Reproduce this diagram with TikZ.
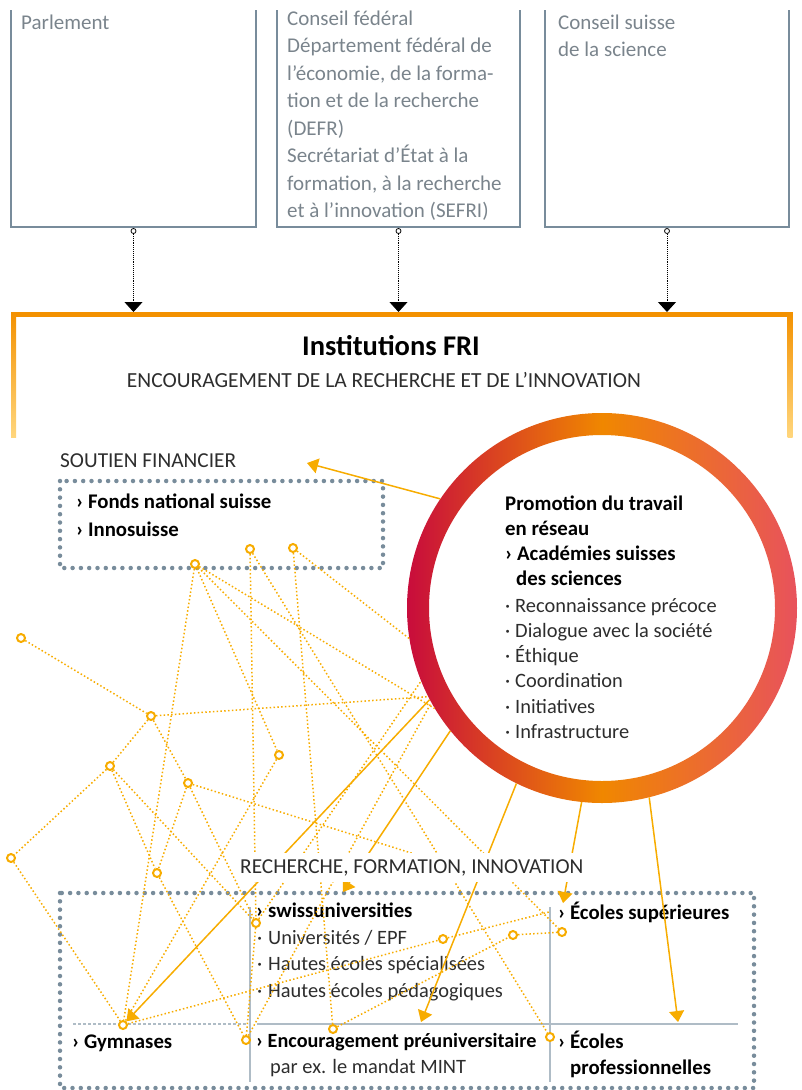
\documentclass[tikz,border=0pt]{standalone}
\usepackage{fontspec}
\setmainfont{Carlito}
\usetikzlibrary{calc,arrows.meta}

\definecolor{fri}{RGB}{243,145,0}
\definecolor{friyellow}{RGB}{255,214,125}
\definecolor{net}{RGB}{247,172,0}
\definecolor{slate}{RGB}{120,140,155}
\definecolor{slatelight}{RGB}{175,188,198}
\definecolor{greytext}{RGB}{122,132,140}
\definecolor{darktext}{RGB}{45,45,45}
\definecolor{ringleft}{RGB}{200,12,60}
\definecolor{ringmid}{RGB}{240,135,0}
\definecolor{ringright}{RGB}{232,82,92}

\tikzset{
  govbox/.style={draw=slate, line width=2pt},
  govarrow/.style={densely dotted, line width=0.9pt, -{Triangle[length=10pt,width=18pt]}},
  greytxt/.style={anchor=base west, inner sep=0pt, text=greytext, font=\fontsize{21}{27}\selectfont},
  bodytxt/.style={anchor=base west, inner sep=0pt, text=darktext, font=\fontsize{20.4}{25}\selectfont},
  boldtxt/.style={anchor=base west, inner sep=0pt, text=black, font=\fontsize{20.8}{25}\selectfont\bfseries},
  headtxt/.style={anchor=base west, inner sep=0pt, text=darktext, font=\fontsize{21.3}{25}\selectfont},
  dotbox/.style={draw=slate, line width=4.5pt, line cap=round, dash pattern=on 0pt off 8.3pt},
  hub/.style={circle, draw=net, line width=2pt, fill=white, minimum size=8pt, inner sep=0pt},
  link/.style={draw=net, line width=1.5pt, dash pattern=on 1.5pt off 2.3pt},
  feed/.style={draw=net, line width=1.5pt, -{Triangle[length=11pt,width=15pt]}}
}

\begin{document}
\begin{tikzpicture}[x=1pt,y=-1pt]
  \useasboundingbox (0,0) rectangle (802,1090);

  % authorities on top
  \foreach \l/\r/\n in {11/256/parl, 277/520/cf, 545/789/css}{
    \draw [govbox] (\l,10) -- (\l,227) -- (\r,227) -- (\r,10);
    \node (\n) [circle, draw, fill=white, line width=0.8pt, inner sep=0pt, minimum size=5pt] at ({(\l+\r)/2},231) {};
    \coordinate (\n tip) at ({(\l+\r)/2},312);
    \draw [govarrow] (\n) -- (\n tip);
  }
  \node (parltxt) [greytxt] at (21,29) {Parlement};
  \foreach \t [count=\i from 0] in {Conseil fédéral, Département fédéral de, {l’économie, de la forma-}, tion et de la recherche, (DEFR), Secrétariat d’État à la, {formation, à la recherche}, et à l’innovation (SEFRI)}
    \node (cf\i) [greytxt] at (287,25+27.5*\i) {\t};
  \node (css1) [greytxt] at (558,29) {Conseil suisse};
  \node (css2) [greytxt] at (558,56) {de la science};

  % FRI frame
  \draw [fri, line width=5pt] (11,314.5) -- (792.5,314.5);
  \shade [top color=fri, bottom color=friyellow] (11,312) rectangle (16,437);
  \shade [top color=fri, bottom color=friyellow] (787.5,312) rectangle (792.5,437);
  \node (fri) [anchor=base, inner sep=0pt, font=\fontsize{28.5}{32}\selectfont\bfseries] at (391,355) {Institutions FRI};
  \node (encour) [headtxt, anchor=base, font=\fontsize{21.5}{25}\selectfont] at (384,387) {ENCOURAGEMENT DE LA RECHERCHE ET DE L’INNOVATION};

  % funding
  \node (soutien) [headtxt] at (60,467) {SOUTIEN FINANCIER};
  \draw [dotbox] (60,481) rectangle (383,568);
  \node (fns) [boldtxt] at (76,508) {› Fonds national suisse};
  \node (inno) [boldtxt] at (76,536) {› Innosuisse};

  % networking ring
  \shade [left color=ringleft, right color=ringright, middle color=ringmid, even odd rule] (602,608) circle (195) (602,608) circle (173);
  \node (ring) [circle, minimum size=390pt, inner sep=0pt] at (602,608) {};
  \node (prom1) [boldtxt] at (505,510) {Promotion du travail};
  \node (prom2) [boldtxt] at (505,535.3) {en réseau};
  \node (acad1) [boldtxt] at (505,560.6) {› Académies suisses};
  \node (acad2) [boldtxt] at (516,585.9) {des sciences};
  \foreach \t [count=\i from 0] in {Reconnaissance précoce, Dialogue avec la société, Éthique, Coordination, Initiatives, Infrastructure}{
    \node (dot\i) [bodytxt] at (505,612+25.3*\i) {·};
    \node (task\i) [bodytxt] at (515,612+25.3*\i) {\t};
  }

  % research, education, innovation
  \draw [dotbox] (60,893) rectangle (754,1088);
  \draw [slatelight, line width=1.5pt] (250,907) -- (250,1082);
  \draw [slatelight, line width=1.5pt] (550,907) -- (550,1082);
  \draw [slatelight, line width=1.5pt] (257,1024) -- (738,1024);
  \draw [slatelight, line width=1.2pt, dash pattern=on 3pt off 2pt] (73,1024) -- (248,1024);
  \node (swiss) [boldtxt] at (256,917) {› swissuniversities};
  \foreach \t [count=\i from 0] in {Universités / EPF, Hautes écoles spécialisées, Hautes écoles pédagogiques}{
    \node (hsdot\i) [bodytxt] at (257,944+26.5*\i) {·};
    \node (hs\i) [bodytxt] at (268,944+26.5*\i) {\t};
  }
  \node (esup) [boldtxt] at (558,919) {› Écoles supérieures};
  \node (gym) [boldtxt] at (72,1048) {› Gymnases};
  \node (preuni) [boldtxt, font=\fontsize{20.2}{25}\selectfont\bfseries] at (256,1047) {› Encouragement préuniversitaire};
  \node (mint) [bodytxt] at (270,1073) {par ex. le mandat MINT};
  \node (epro1) [boldtxt] at (558,1048) {› Écoles};
  \node (epro2) [boldtxt] at (570,1074) {professionnelles};

  % network of actors
  \foreach \n/\x/\y in {c1/195/564, c2/250/549, c3/293/548, c4/21/638, c5/151/716, c6/279/755,
      c7/110/766, c8/188/783, c9/11/858, c10/157/873, c11/256/923, c12/123/1025, c13/246/1040,
      c14/333/1029, c15/443/939, c16/513/935, c17/562/932, c18/550/1037}
    \node (\n) [hub] at (\x,\y) {};
  \coordinate (j) at (549,912);
  \coordinate (c8end) at (440,862);
  \foreach \a/\b in {c1/c12, c1/c6, c1/c17, c2/c11, c2/c18, c3/c14, c4/c5, c5/c7, c5/c8, c7/c9,
      c7/c10, c7/c11, c8/c10, c8/c11, c9/c12, c10/c13, c11/c13, c6/c12, c12/c15, c15/j,
      c14/c16, c16/c17, c8/c8end}
    \draw [link] (\a) -- (\b);
  \foreach \a/\ang in {c1/211.2, c3/189.4, c5/207.4, c11/202, c13/209.8}
    \draw [link] (\a) -- (ring.\ang);

  % arrows from the ring
  \coordinate (soutientip) at (307,463);
  \coordinate (swisstip) at (343,892);
  \coordinate (preunitip) at (421,1022);
  \coordinate (esuptip) at (563,903);
  \coordinate (eprotip) at (678,1022);
  \draw [feed] (ring.146.3) -- (soutientip);
  \draw [feed] (ring.208.1) -- (c12);
  \draw [feed] (ring.219.2) -- (swisstip);
  \draw [feed] (ring.244.9) -- (preunitip);
  \draw [feed] (ring.264.4) -- (esuptip);
  \draw [feed] (ring.284.2) -- (eprotip);

  \node (rfi) [headtxt, fill=white, inner xsep=3pt, inner ysep=6pt] at (237,873) {RECHERCHE, FORMATION, INNOVATION};
\end{tikzpicture}
\end{document}
